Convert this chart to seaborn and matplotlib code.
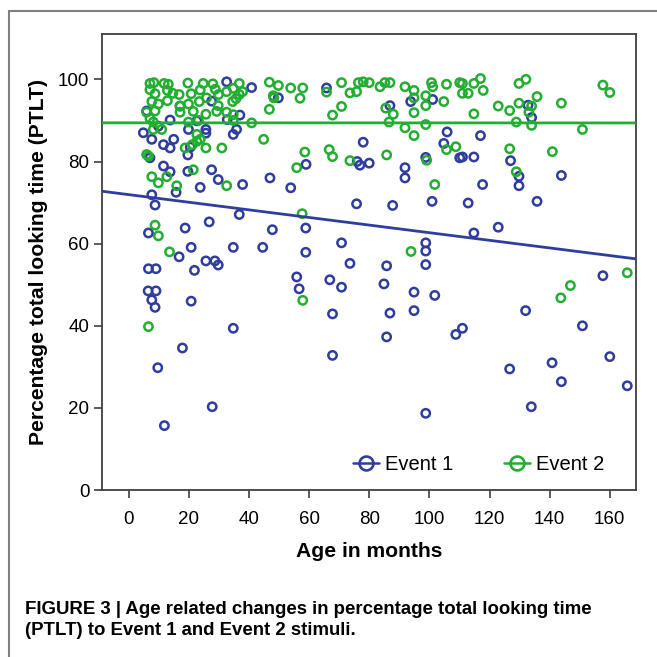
import matplotlib
matplotlib.use('Agg')
import matplotlib.pyplot as plt
import seaborn as sns
from matplotlib.lines import Line2D
from matplotlib.patches import Rectangle

# Event 1 (blue) - age in months, PTLT
e1_age = [32.6, 40.9, 17.1, 27.6, 13.8, 32.8, 4.9, 19.9, 7.7, 11.6,
          20.5, 7.1, 19.7, 11.6, 13.8, 27.6, 29.8, 47.0, 23.8, 37.9,
          7.7, 22.7, 37.0, 25.7, 25.7, 35.9, 34.8, 13.8, 15.0, 19.7,
          6.0, 9.9, 65.8, 49.8, 86.9, 93.8, 101.1, 105.9, 104.8, 110.1,
          78.0, 98.8, 59.0, 76.0, 76.9, 80.0, 91.9, 91.9, 53.9, 132.8,
          134.0, 117.0, 111.0, 114.8, 127.0, 129.8, 129.8, 143.9, 117.7, 15.8,
          8.8, 6.6, 18.8, 26.8, 36.8, 47.8, 16.8, 20.8, 34.8, 44.6,
          25.7, 28.7, 29.8, 21.9, 6.6, 9.1, 6.5, 9.1, 7.7, 8.8,
          20.8, 34.8, 9.7, 11.9, 17.9, 27.8, 75.8, 87.8, 100.9, 58.9,
          70.8, 98.8, 98.8, 58.9, 73.6, 85.8, 98.8, 55.9, 56.7, 66.9,
          70.8, 84.9, 94.9, 101.8, 67.8, 86.9, 94.9, 85.8, 108.8, 111.0,
          67.8, 112.9, 135.8, 114.8, 122.9, 157.7, 132.0, 150.9, 126.7, 133.9,
          140.8, 143.9, 160.0, 165.8, 98.8]
e1_ptlt = [99.4, 98.0, 93.5, 94.7, 90.1, 90.2, 87.0, 87.8, 85.4, 84.1,
           83.5, 80.9, 81.6, 78.9, 77.5, 78.0, 75.6, 76.0, 73.7, 74.4,
           71.9, 89.9, 91.3, 87.8, 86.9, 87.8, 86.6, 83.3, 85.4, 77.6,
           92.3, 88.6, 97.9, 95.5, 93.6, 94.6, 95.1, 87.2, 84.4, 80.9,
           84.7, 81.0, 79.3, 80.0, 79.1, 79.6, 78.5, 76.0, 73.6, 93.7,
           90.7, 86.3, 81.1, 81.1, 80.2, 76.4, 74.1, 76.6, 74.4, 72.5,
           69.4, 62.6, 63.8, 65.3, 67.1, 63.4, 56.8, 59.1, 59.1, 59.1,
           55.8, 55.8, 54.8, 53.5, 53.9, 53.9, 48.5, 48.5, 46.3, 44.5,
           46.0, 39.4, 29.8, 15.7, 34.6, 20.3, 69.7, 69.3, 70.3, 63.8,
           60.2, 60.2, 58.2, 57.9, 55.2, 54.6, 54.9, 51.9, 49.0, 51.2,
           49.4, 50.2, 48.2, 47.4, 42.9, 43.1, 43.7, 37.3, 37.9, 39.4,
           32.8, 69.9, 70.3, 62.6, 64.0, 52.2, 43.7, 40.0, 29.5, 20.3,
           31.0, 26.4, 32.5, 25.4, 18.7]

# Event 2 (green)
e2_age = [7.1, 8.4, 11.8, 13.2, 19.7, 24.8, 28.0, 36.8, 46.8,
          7.1, 8.8, 12.9, 14.7, 16.8, 20.8, 23.8, 28.8, 29.9, 32.6, 34.8, 36.8, 37.9, 48.1,
          7.7, 9.9, 12.9, 17.1, 19.9, 23.5, 25.9, 29.8, 34.6, 35.7, 46.8,
          6.0, 8.8, 17.1, 21.5, 25.7, 29.3, 32.6, 34.8,
          7.1, 8.2, 19.9, 23.2, 34.8, 40.9,
          8.2, 11.0, 22.7,
          18.8, 21.2, 22.7, 23.8, 25.7, 31.0, 44.9,
          6.0, 6.6,
          21.5, 12.7, 7.7, 9.9, 16.0, 32.6,
          8.8, 9.9, 13.6, 6.6,
          57.7, 93.9, 57.9, 143.7, 146.9, 165.8,
          49.8, 53.9, 57.9, 57.0, 48.3, 70.8, 73.6, 75.8, 76.4, 78.0,
          80.0, 83.6, 85.2, 86.9, 91.9, 94.9, 94.9, 98.8, 98.8, 100.7,
          101.1, 104.8, 105.7, 110.1, 70.8, 67.8, 85.5, 88.0, 86.6, 98.8,
          91.9, 94.9, 105.7, 108.8, 65.8, 94.9,
          58.6, 55.9, 66.7, 67.8, 73.6, 85.8, 99.1, 101.8,
          111.0, 114.8, 117.0, 111.0, 112.9, 117.9, 129.8, 132.1, 135.8, 129.8,
          122.9, 126.7, 134.0, 133.1, 143.9, 114.8, 128.9, 134.0, 150.9, 157.7,
          160.0, 126.7, 140.9, 128.9]
e2_ptlt = [99.0, 99.2, 99.0, 98.8, 99.1, 99.0, 98.9, 99.0, 99.3,
           97.5, 96.5, 97.3, 96.6, 96.3, 96.5, 97.4, 97.6, 96.3, 97.0, 97.8, 96.3, 97.0, 96.0,
           94.6, 94.0, 94.8, 93.5, 94.0, 94.6, 95.5, 93.6, 94.6, 95.3, 92.7,
           92.0, 92.3, 92.0, 92.2, 91.5, 92.2, 92.0, 91.4,
           90.5, 89.6, 89.6, 90.0, 90.0, 89.4,
           87.8, 87.8, 86.6,
           83.3, 84.1, 84.9, 85.4, 83.3, 83.3, 85.4,
           81.7, 81.3,
           78.0, 76.3, 76.3, 74.8, 74.1, 74.1,
           64.5, 61.9, 58.0, 39.8,
           67.3, 58.1, 46.2, 46.8, 49.8, 52.9,
           98.5, 97.9, 97.9, 95.4, 95.5, 99.2, 96.7, 97.0, 99.2, 99.4,
           99.2, 98.2, 99.2, 99.2, 98.2, 97.3, 95.5, 96.0, 93.6, 99.2,
           98.2, 94.6, 98.8, 99.2, 93.4, 91.3, 93.0, 91.5, 89.6, 89.0,
           88.2, 86.3, 82.9, 83.6, 96.9, 91.9,
           82.3, 78.5, 82.9, 81.2, 80.2, 81.6, 80.3, 74.4,
           99.0, 99.0, 100.2, 96.6, 96.6, 97.3, 99.0, 100.0, 95.8, 94.2,
           93.5, 92.4, 93.5, 92.0, 94.2, 91.6, 89.6, 88.8, 87.8, 98.6,
           96.8, 83.1, 82.4, 77.5]

x_ticks = [0, 20, 40, 60, 80, 100, 120, 140, 160]
y_ticks = [0, 20, 40, 60, 80, 100]

blue = '#2f3d9e'
green = '#23ad32'

sns.set_theme(style='white')
plt.rcParams['font.family'] = ['Liberation Sans', 'DejaVu Sans']
plt.rcParams['text.color'] = 'black'
plt.rcParams['axes.labelcolor'] = 'black'

fig = plt.figure(figsize=(6.57, 6.57), dpi=100)
ax = fig.add_axes([0.155, 0.254, 0.813, 0.694])
ax.set_xlim(-8.9, 168.7)
ax.set_ylim(0, 111)

sns.scatterplot(x=e1_age, y=e1_ptlt, ax=ax, marker='o', s=36,
                facecolor='none', edgecolor=blue, linewidth=1.8, zorder=3)
sns.scatterplot(x=e2_age, y=e2_ptlt, ax=ax, marker='o', s=36,
                facecolor='none', edgecolor=green, linewidth=1.8, zorder=3)

sns.regplot(x=e1_age, y=e1_ptlt, ax=ax, scatter=False, ci=None, truncate=False,
            line_kws=dict(color=blue, lw=2, zorder=4))
sns.regplot(x=e2_age, y=e2_ptlt, ax=ax, scatter=False, ci=None, truncate=False,
            line_kws=dict(color=green, lw=2, zorder=4))

ax.set_xlim(-8.9, 168.7)
ax.set_ylim(0, 111)
ax.set_xticks(x_ticks)
ax.set_yticks(y_ticks)
ax.tick_params(axis='both', direction='out', length=6, width=1.2, color='#404040',
               labelsize=13.5, bottom=True, left=True, labelcolor='black')
ax.tick_params(axis='x', pad=9)
ax.tick_params(axis='y', pad=3)
for sp in ax.spines.values():
    sp.set_color('#404040')
    sp.set_linewidth(1.3)

ax.set_xlabel('Age in months', fontsize=15.2, fontweight='bold', labelpad=10)
ax.set_ylabel('Percentage total looking time (PTLT)', fontsize=15.2, fontweight='bold', labelpad=7)

handles = [Line2D([0], [0], color=c, lw=1.8, marker='o', ms=10, mfc='none', mec=c, mew=1.9)
           for c in (blue, green)]
ax.legend(handles, ['Event 1', 'Event 2'], loc='lower right', bbox_to_anchor=(0.975, -0.005),
          ncol=2, frameon=False, fontsize=14.5, handlelength=1.3, handletextpad=0.3,
          columnspacing=2.5)

fig.text(25 / 657, 1 - 601 / 657,
         'FIGURE 3 | Age related changes in percentage total looking time\n(PTLT) to Event 1 and Event 2 stimuli.',
         fontsize=13.4, fontweight='bold', va='top', ha='left', linespacing=1.33, color='black')

fig.patches.append(Rectangle((9 / 657, -0.1), 1.2, 1 - 11 / 657 + 0.1, transform=fig.transFigure,
                             fill=False, edgecolor='#808080', lw=1.5))

fig.savefig('out.png', dpi=100)
